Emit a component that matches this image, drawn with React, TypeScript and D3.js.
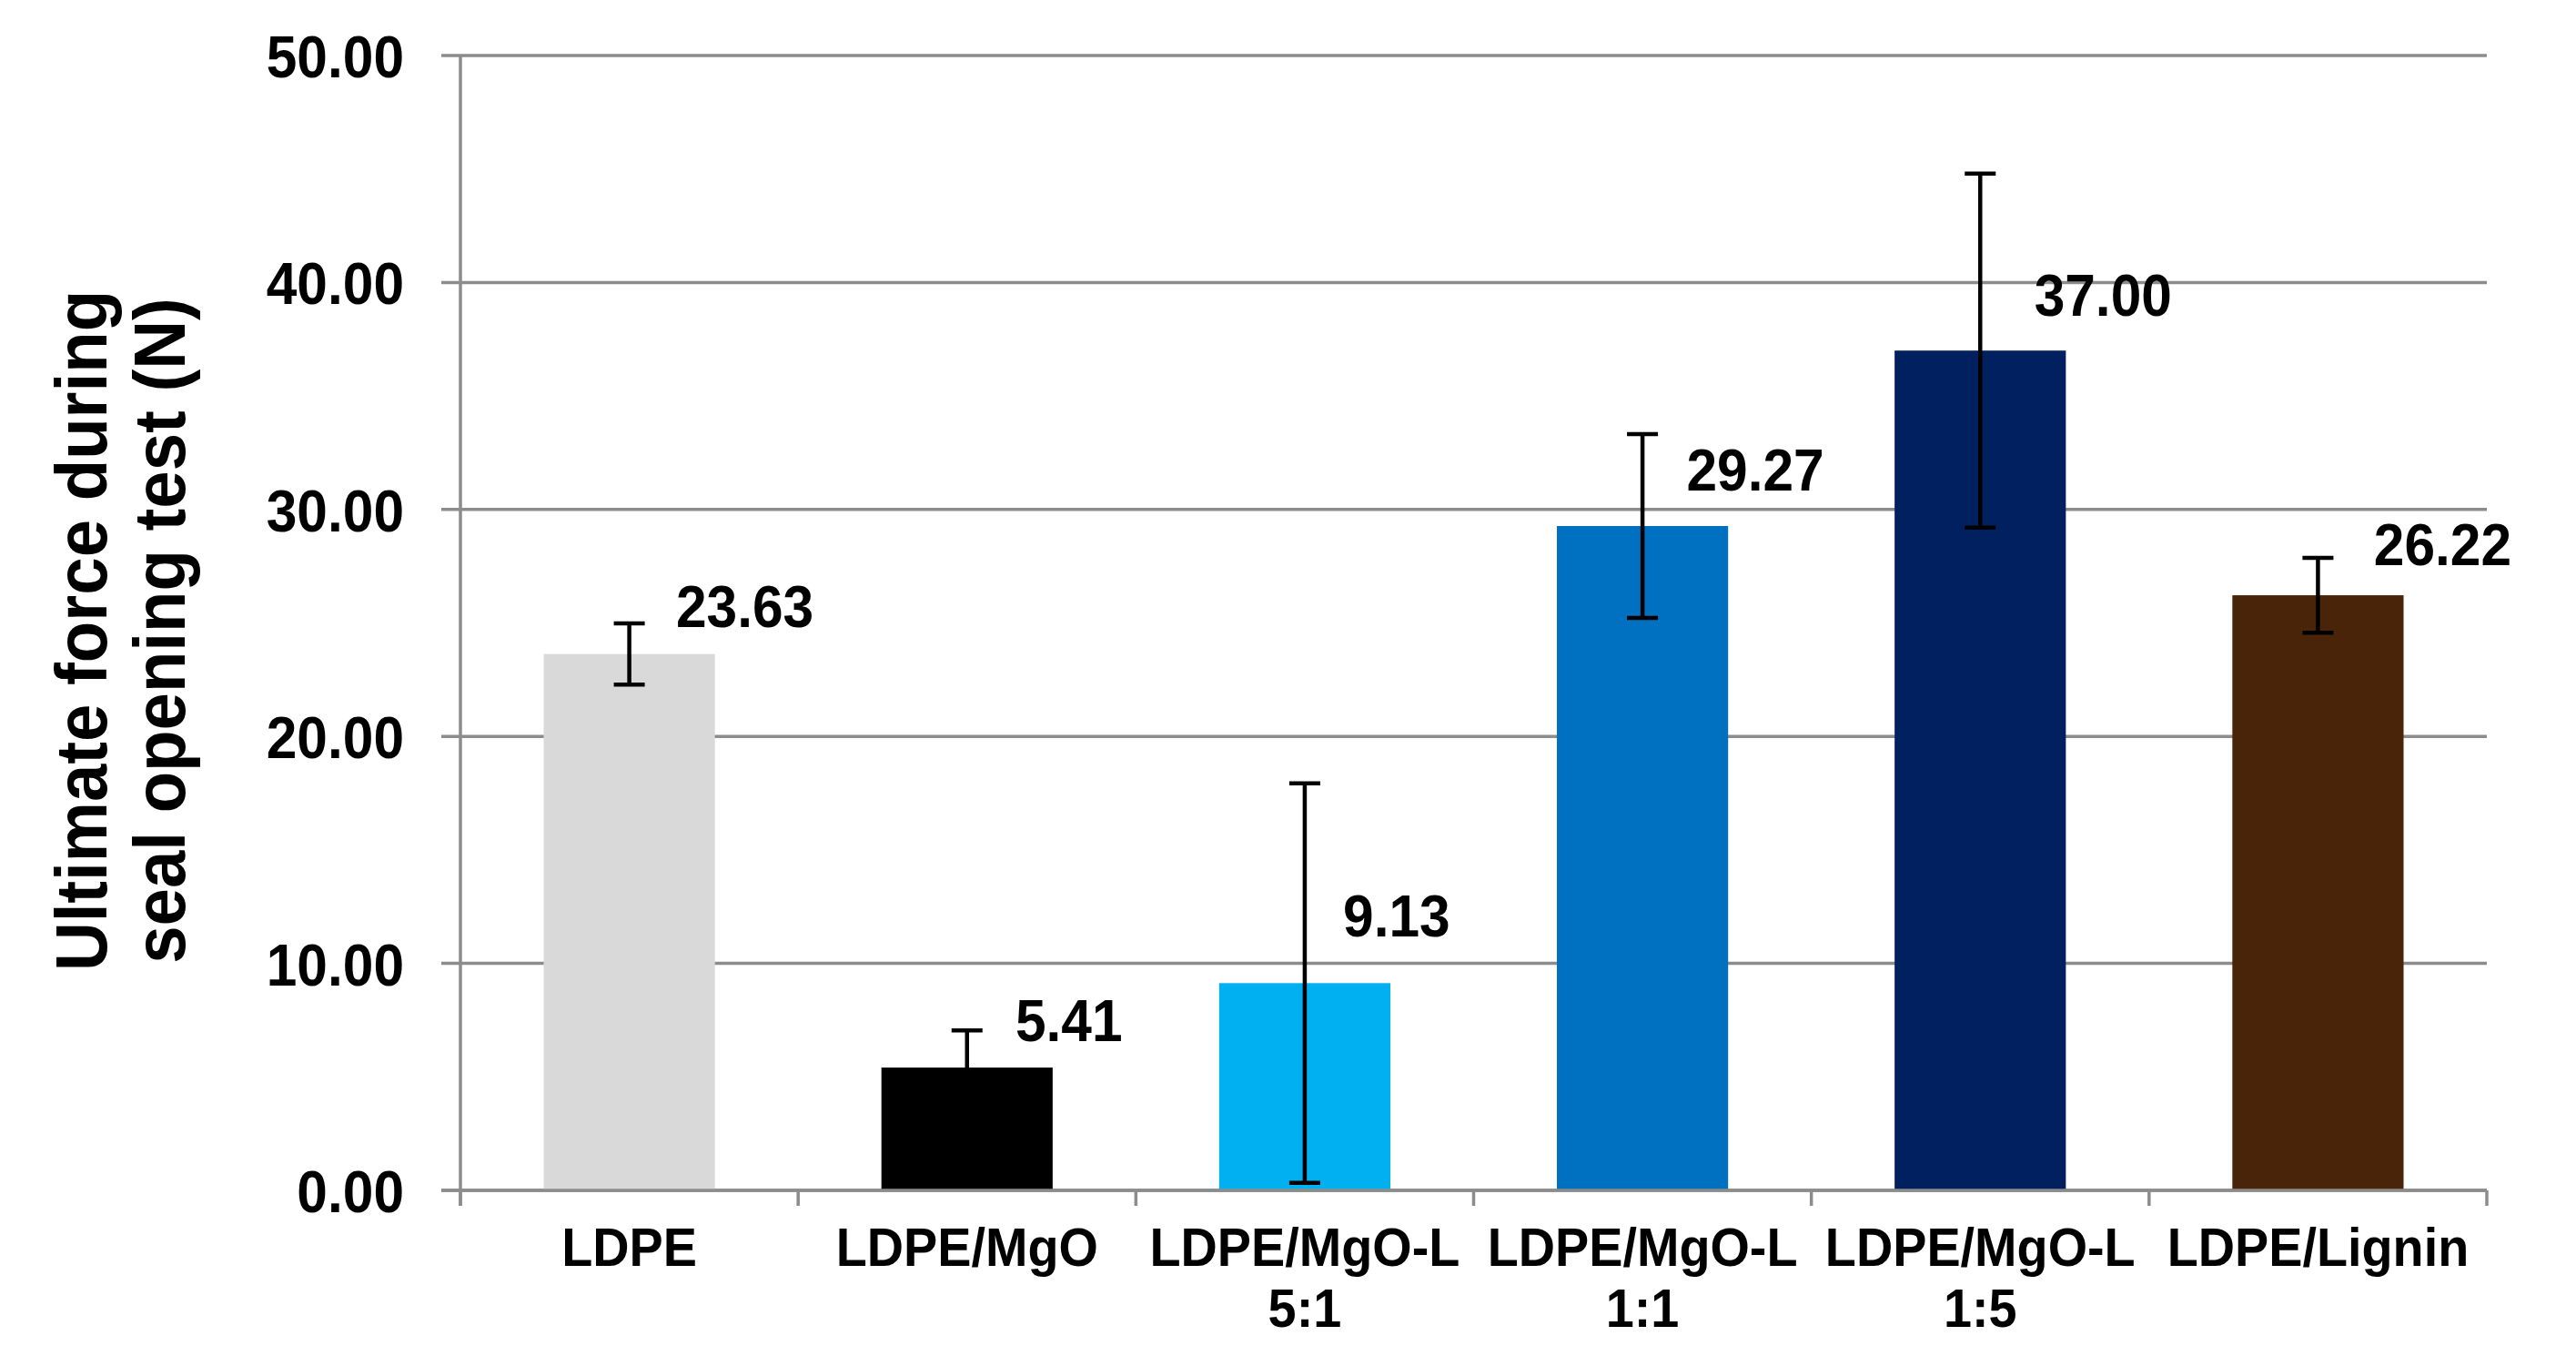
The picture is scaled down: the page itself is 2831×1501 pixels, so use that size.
import React from "react";
import * as d3 from "d3";

const categoryLine1 = ["LDPE", "LDPE/MgO", "LDPE/MgO-L", "LDPE/MgO-L", "LDPE/MgO-L", "LDPE/Lignin"];
const categoryLine2 = ["", "", "5:1", "1:1", "1:5", ""];
const values = [23.63, 5.41, 9.13, 29.27, 37.0, 26.22];
const errors = [1.35, 1.64, 8.8, 4.05, 7.8, 1.65];
const colors = ["#d9d9d9", "#000000", "#00b0f0", "#0070c0", "#002060", "#4a2408"];
const yTicks = [0, 10, 20, 30, 40, 50];
const yTitle = ["Ultimate force during", "seal opening test (N)"];

// manual label nudges (px) relative to bar centre / bar top
const labelDx = [127, 112, 101, 124, 135, 137];
const labelDy = [-30, -29, -51, -39, -38, -33];

const W = 2831;
const H = 1501;
const left = 506;
const right = 2733;
const top = 61;
const bottom = 1308;
const FONT = "'Liberation Sans', Arial, sans-serif";
const GRID = "#8c8c8c";
const SX = 0.93;

export default function App() {
  const ids = categoryLine1.map((_, i) => String(i));
  const x = d3.scaleBand<string>().domain(ids).range([left, right]).padding(0);
  const y = d3.scaleLinear().domain([0, 50]).range([bottom, top]);
  const bw = x.bandwidth();
  const barW = bw * 0.507;

  return (
    <svg
      width={W}
      height={H}
      style={{ position: "absolute", left: 0, top: 0, display: "block", background: "#fff" }}
      fontFamily={FONT}
      fontWeight="bold"
    >
      <rect x={0} y={0} width={W} height={H} fill="#fff" />
      {/* gridlines */}
      {yTicks.map((t) => (
        <line key={"g" + t} x1={left - 21} x2={right} y1={y(t)} y2={y(t)} stroke={GRID} strokeWidth={3.5} />
      ))}
      {/* y axis */}
      <line x1={left} x2={left} y1={top} y2={bottom + 17} stroke={GRID} strokeWidth={3.5} />
      {/* x ticks */}
      {d3.range(ids.length + 1).map((i) => {
        const xx = i < ids.length ? (x(ids[i]) as number) : right;
        return <line key={"xt" + i} x1={xx} x2={xx} y1={bottom} y2={bottom + 17} stroke={GRID} strokeWidth={3.5} />;
      })}
      {/* y tick labels */}
      {yTicks.map((t) => (
        <text
          key={"yl" + t}
          transform={`translate(${left - 62},${y(t) + 24}) scale(${SX},1)`}
          textAnchor="end"
          fontSize={65}
          fill="#000"
        >
          {t.toFixed(2)}
        </text>
      ))}
      {/* bars */}
      {values.map((v, i) => {
        const cx = (x(ids[i]) as number) + bw / 2;
        return (
          <rect key={"b" + i} x={cx - barW / 2} y={y(v)} width={barW} height={y(0) - y(v)} fill={colors[i]} />
        );
      })}
      {/* x axis on top of bars */}
      <line x1={left - 21} x2={right} y1={bottom} y2={bottom} stroke={GRID} strokeWidth={3.5} />
      {/* error bars */}
      {values.map((v, i) => {
        const cx = (x(ids[i]) as number) + bw / 2;
        const y1 = y(v + errors[i]);
        const y2 = y(v - errors[i]);
        return (
          <g key={"e" + i} stroke="#000" strokeWidth={4.5}>
            <line x1={cx} x2={cx} y1={y1} y2={y2} />
            <line x1={cx - 17} x2={cx + 17} y1={y1} y2={y1} />
            <line x1={cx - 17} x2={cx + 17} y1={y2} y2={y2} />
          </g>
        );
      })}
      {/* data labels */}
      {values.map((v, i) => {
        const cx = (x(ids[i]) as number) + bw / 2 + labelDx[i];
        const yy = y(v) + labelDy[i];
        return (
          <text
            key={"dl" + i}
            transform={`translate(${cx},${yy}) scale(${SX},1)`}
            textAnchor="middle"
            fontSize={65}
            fill="#000"
          >
            {v.toFixed(2)}
          </text>
        );
      })}
      {/* category labels */}
      {ids.map((id, i) => {
        const cx = (x(id) as number) + bw / 2;
        return (
          <g key={"c" + i}>
            <text transform={`translate(${cx},1391) scale(${SX},1)`} textAnchor="middle" fontSize={60} fill="#000">
              {categoryLine1[i]}
            </text>
            {categoryLine2[i] && (
              <text transform={`translate(${cx},1458) scale(${SX},1)`} textAnchor="middle" fontSize={60} fill="#000">
                {categoryLine2[i]}
              </text>
            )}
          </g>
        );
      })}
      {/* y title */}
      {yTitle.map((t, i) => (
        <text
          key={"yt" + i}
          transform={`translate(${117 + i * 86},693) rotate(-90) scale(${SX},1)`}
          textAnchor="middle"
          fontSize={80}
          fill="#000"
        >
          {t}
        </text>
      ))}
    </svg>
  );
}
